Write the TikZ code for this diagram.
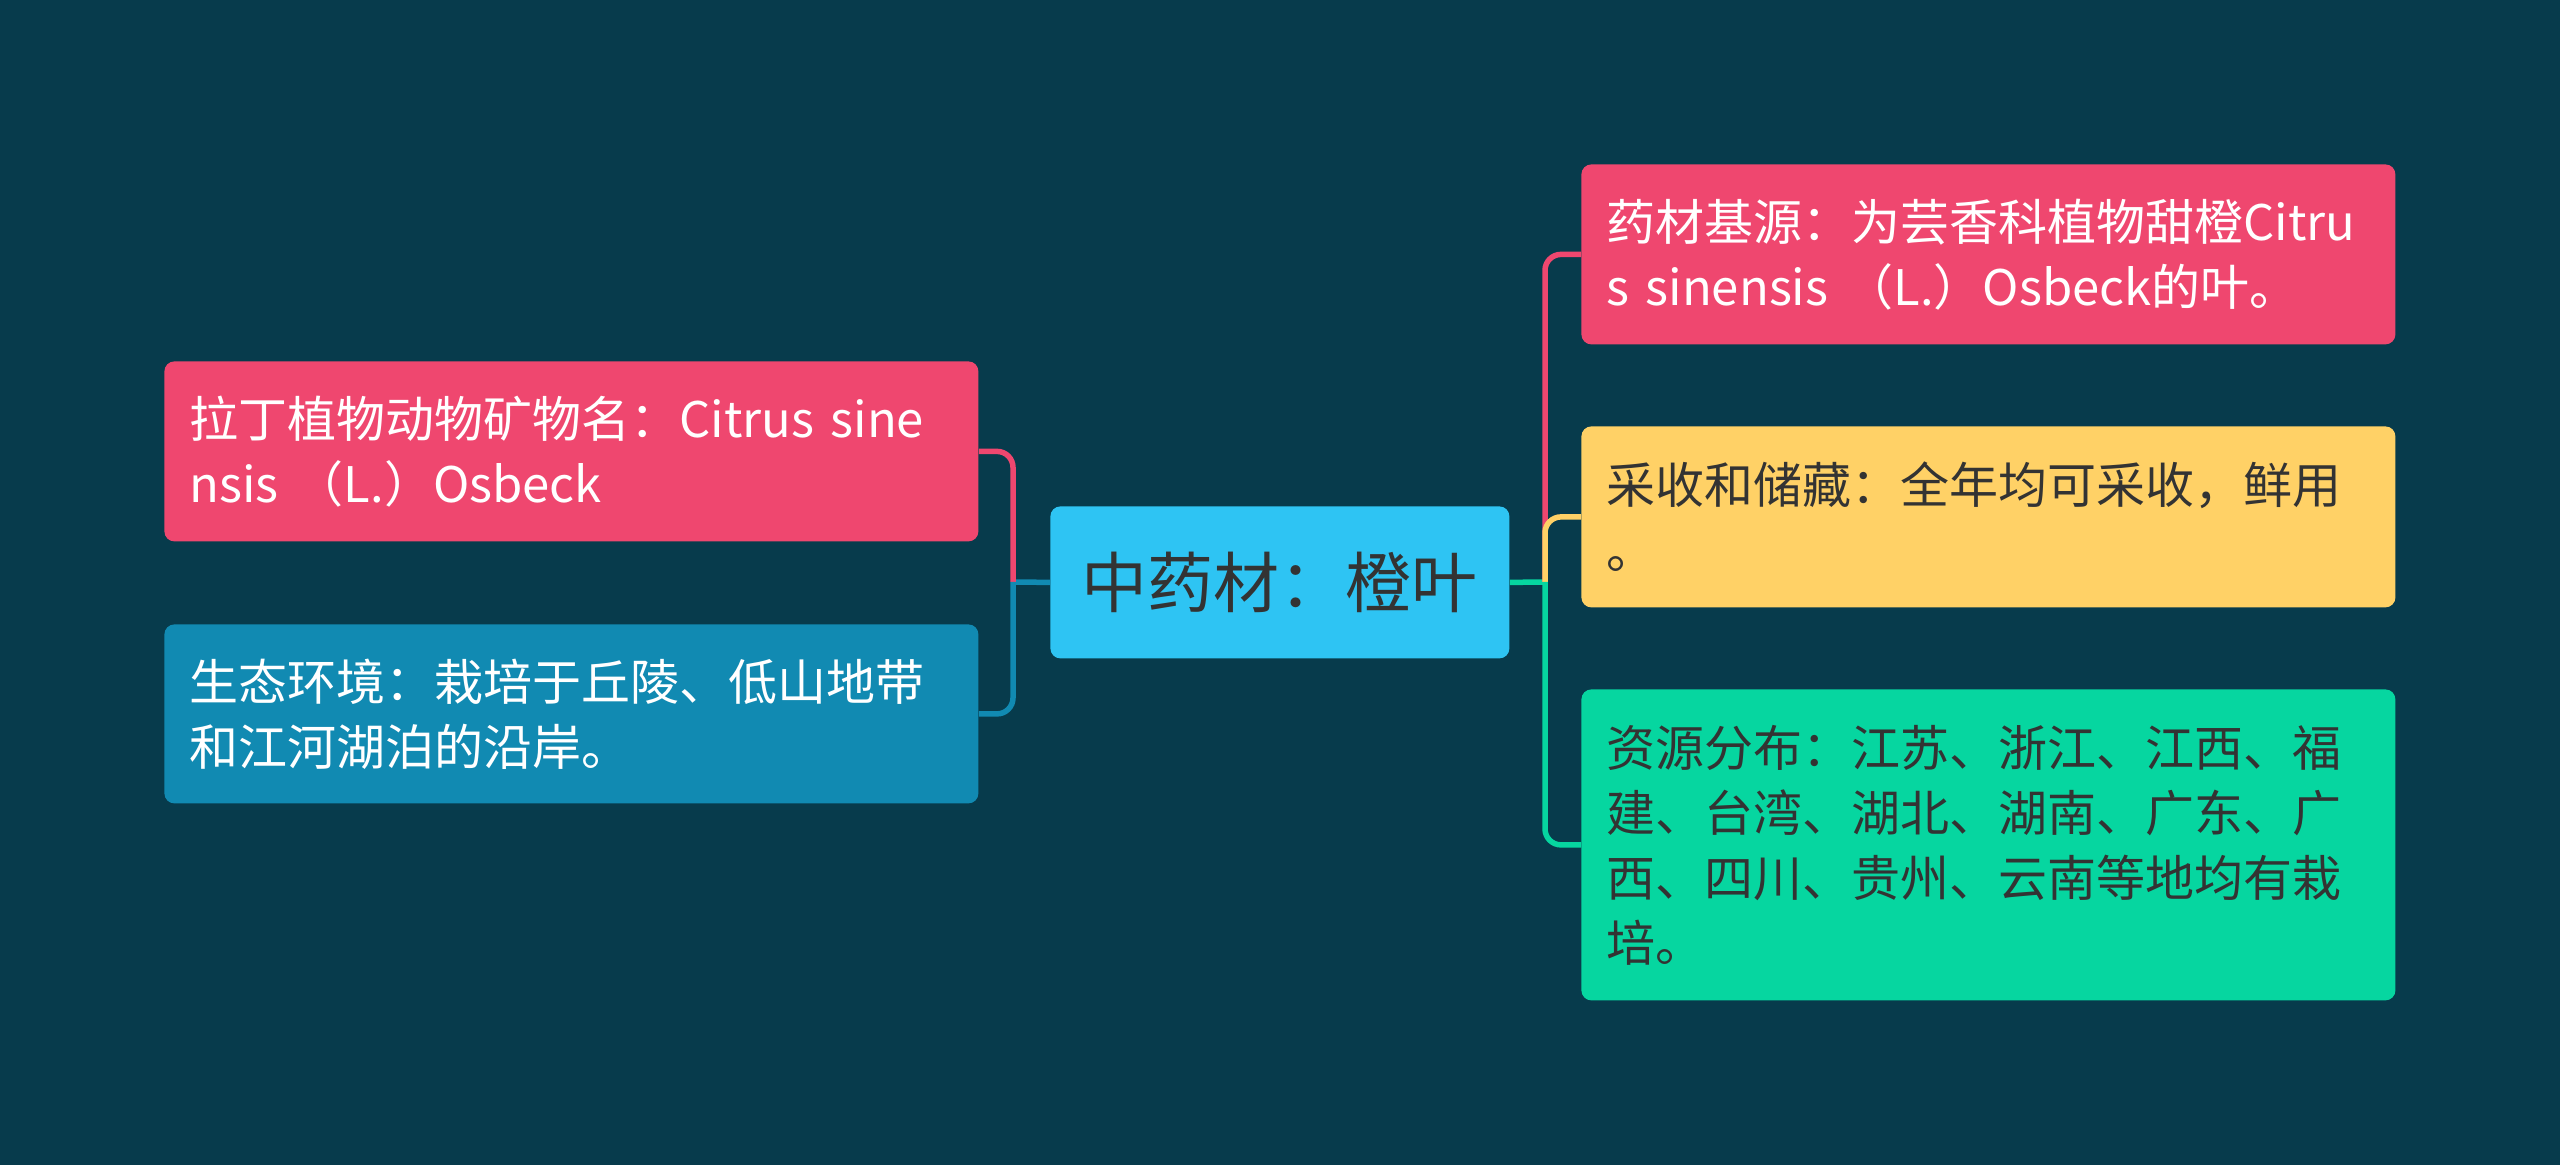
\documentclass[tikz,border=0pt]{standalone}
\usepackage{fontspec}
\setmainfont{Noto Sans CJK SC}
\usetikzlibrary{positioning}

\definecolor{bgteal}{HTML}{073B4C}
\definecolor{rosered}{HTML}{EF476F}
\definecolor{seablue}{HTML}{118AB2}
\definecolor{skyblue}{HTML}{2EC4F3}
\definecolor{sunyellow}{HTML}{FFD166}
\definecolor{mintgreen}{HTML}{06D6A0}
\definecolor{darktext}{HTML}{333333}

\begin{document}
\begin{tikzpicture}[
            x=0.5pt, y=-0.5pt,
            topic/.style={draw=none, rounded corners=5pt, anchor=north west, inner xsep=12.5pt,
                    text width=382pt, align=left, font=\fontsize{24.5}{32.5}\selectfont},
            root/.style={draw=none, rounded corners=5pt, anchor=north west, fill=skyblue,
                    text=darktext, minimum width=229.5pt, minimum height=76pt, align=center,
                    font=\fontsize{33}{40}\selectfont},
            link/.style={line width=2.75pt, rounded corners=8pt}
        ]
        \fill[bgteal] (0,0) rectangle (2560,1165);
        \useasboundingbox (0,0) rectangle (2560,1165);

        % centre
        \node[root] (herb) at (1050,506) {中药材：橙叶};

        % left side
        \node[topic, fill=rosered, text=white, minimum height=90pt] (latin) at (164,361)
            {拉丁植物动物矿物名：Citrus~sine\\nsis （L.）Osbeck};
        \node[topic, fill=seablue, text=white, minimum height=89.5pt] (habitat) at (164,624)
            {生态环境：栽培于丘陵、低山地带\\和江河湖泊的沿岸。};

        % right side
        \node[topic, fill=rosered, text=white, minimum height=90pt] (origin) at (1581,164)
            {药材基源：为芸香科植物甜橙Citru\\s sinensis （L.）Osbeck的叶。};
        \node[topic, fill=sunyellow, text=darktext, minimum height=90.5pt] (harvest) at (1581,426)
            {采收和储藏：全年均可采收，鲜用\\。};
        \node[topic, fill=mintgreen, text=darktext, minimum height=155.5pt] (region) at (1581,689)
            {资源分布：江苏、浙江、江西、福\\建、台湾、湖北、湖南、广东、广\\西、四川、贵州、云南等地均有栽\\培。};

        \coordinate (hubL) at (1013,582);
        \coordinate (hubR) at (1545,582);

        \draw[link, seablue] (herb.west) -- (hubL);
        \draw[link, rosered] (hubL) |- (latin.east);
        \draw[link, seablue] (hubL) |- (habitat.east);

        \draw[link, mintgreen] (herb.east) -- (hubR);
        \draw[link, rosered] (hubR) |- (origin.west);
        \draw[link, sunyellow] (hubR) |- (harvest.west);
        \draw[link, mintgreen] (hubR) |- (region.west);
    \end{tikzpicture}
\end{document}
